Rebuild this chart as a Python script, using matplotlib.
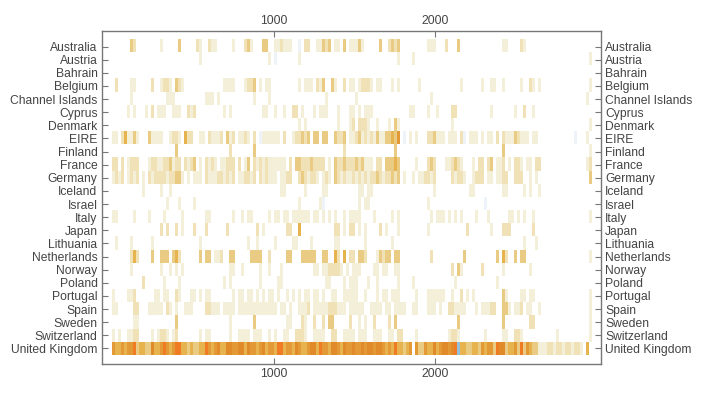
import numpy as np
import matplotlib
matplotlib.use("Agg")
import matplotlib.pyplot as plt
from matplotlib.colors import ListedColormap, BoundaryNorm

plt.rcParams["font.family"] = ["Liberation Sans", "DejaVu Sans"]

countries = ["Australia", "Austria", "Bahrain", "Belgium", "Channel Islands", "Cyprus",
             "Denmark", "EIRE", "Finland", "France", "Germany", "Iceland", "Israel",
             "Italy", "Japan", "Lithuania", "Netherlands", "Norway", "Poland",
             "Portugal", "Spain", "Sweden", "Switzerland", "United Kingdom"]

# stripes, 4 bands of 40 cells each; "cell:level" or "a-b:level"
band1 = [
    "6:3 7:2 16:1 22:3 28:2 29:1 32:2 33-34:1",
    "29:1",
    "",
    "1:2 6:1 7:1 13:2 16:1 17-18:2 19:1 21:3 22:2 23:1 37-39:1",
    "6:1 18:1 19-20:1 31:1 32:1 33:1 35:1",
    "5:1 7:1 11:1 13:2 15-16:1 17:1 20-21:1 22:1 25:2 26:1 27:2 37:1 39:1",
    "",
    "0-1:1 3:2 4:4 5-6:1 7:3 8:1 12:3 13-14:1 15-16:1 19:1 20:2 21:2 22:1 24:4 25-26:2 29-30:1 32:2 33-34:1 35:1 36:2 38:3 39:1",
    "21:3 39:2",
    "0-1:2 3:2 5:1 6:2 7-8:2 12:1 13-14:2 15:1 16:1 17-18:2 19:3 20:1 21-22:2 24:2 25:1 26:2 27:3 29:1 31:2 32:1 33:2 34:1 36-37:1 38:2 39:2",
    "0:1 1:2 2:1 3:2 5:1 6:2 7:1 8:2 10:1 12:2 13:1 14-16:2 17:2 18:1 19-20:2 21-22:3 23:1 25:1 27-29:1 31:2 32-34:1 35-36:2 37:1 38:2 39:1",
    "10:1 16:1 19:1",
    "18:1 22:1 27:1",
    "0-1:1 7:1 12:1 17:1 23:1 31:1 32:1",
    "16:2 18:2 21:2 23:1 27:2 31:2 38:2",
    "1:1 6:1 13:1 29:1",
    "6:2 7:4 8:2 13:3 16-17:3 18:3 20:3 21:4 22:2 29:3 31:3 32:3 34-35:1 36:2 39:3",
    "6:1 16:1 19:1 21:1 23:1 39:1",
    "10:2 17:1 22:1 37:1 39:1",
    "0:1 5-6:1 7:2 14:1 15:1 17:1 18:1 21:2 22:1 26:1 27:1 29:1 31:1 32:1",
    "0-1:1 7-8:2 12-14:1 15-16:1 18:2 19:1 21:1 24-26:1 31-32:2 33:1 34:1 35:1 37-38:1 39:1",
    "7-8:1 21:3 39:1",
    "0:1 2:1 5:1 6:1 7-8:2 13:1 15:1 16-17:2 18:1 20:1 21:2 29:1 31:1 32:1 39:1",
    "5445455734433644575457744343344754564466",
]
band2 = [
    "0:1 4:2 5:3 6:1 10-11:3 14:1 15:1 16:2 17-19:1 22:b 24-25:2 28-29:1 30:3 31:2 32:3 34-35:1 37:3 39:1",
    "12:1 14:b 22:1",
    "",
    "0:1 4:1 5-6:2 7:3 9:1 11-12:1 22:1 24:1 25-26:1 28:2 29:1 30:3 33:3 34:1 37:2 39:1",
    "7:1 12:1 31:1",
    "10-11:1 14:1 17:1 20-21:2 23:1 27:1 29-30:1 31:1 35:1 39:1",
    "22:1 24:1 35:1 39:1",
    "0:2 2:1 3:1 4:2 5:1 7:2 9:b 10-14:1 15:1 17:2 20:1 21:2 22:2 23:3 24:2 25:3 27-28:3 30-31:3 34:3 35-36:2 37:3 39:1",
    "7:3 37:2",
    "0:2 2:2 4:1 5:3 7:2 8:1 9:2 10:1 11:2 12-17:1 19:2 21:3 22:3 23-25:2 26:3 27-30:2 32:1 34:3 35:2 36:2 37:3 38:2 39:2",
    "0:2 2:1 3:1 4:2 5:2 6:1 7:2 9:2 10:1 11:2 12-14:1 16:1 17:1 18:2 19:2 22:2 23:3 24:2 25:1 26:2 27:2 28:1 30:1 31:2 32:1 34:3 35:2 36:1 37:2 38:1 39:1",
    "16-17:1 24:1 30-31:1",
    "22:1 29:1 30:b",
    "0:1 3:1 5:1 6:1 12:1 14:1 15:1 17:1 18:1 20-25:1 27:1 28:1 30:1 32:1 34:1 37:1 39:1",
    "8:2 10:1 18:2 19:2 22:4 34-35:2 37:1 39:2",
    "5:1 8:1 14:1 20:1 21:1 26:1 34-35:1",
    "0:3 6:3 7-9:3 12:2 18-19:3 23-27:3 30-31:3 34:4 35:2 37:4 39:2",
    "0:1 3:1 9:1 12:1 16:1 27:1 28:1 30-31:1 32-35:2 36:1 38:1",
    "9:1 15-16:1 31-32:1 37:1 39:1",
    "0:1 2:1 3:1 5:1 6:1 8:1 10:1 12:1 13:1 15:1 18:1 20:1 22:1 24:1 25:1 27:1 28:1 30:1 33:1 34:1 37-39:1",
    "0:1 2-4:1 5-9:1 10-14:1 16-17:1 19:1 22-24:1 25:2 27-29:1 30-31:1 32-34:2 35-37:1 39:1",
    "7:3 18-19:1 23:2 24:1 27:2 30:2 32-33:3 39:2",
    "2-4:1 5:1 7-9:1 12:1 14:1 17:1 18:1 21-23:2 24:1 27-30:1 33-34:2 37-39:1",
    "5566465545645547745546544566475546654655",
]
band3 = [
    "0:1 1:1 2:3 3:1 9:3 12:2 13:3 14:2 15:3 25-26:1 27:1 31:2 35:3",
    "15:1 20:1",
    "",
    "0:1 2:1 3-5:2 6:1 8-9:1 13:1 15:1 22:1 36:1",
    "1:1 26:1",
    "0:1 2:1 4:1 5-6:1 19-20:1 25:1 28:1 33-34:2",
    "0:2 2:2 3-4:2 5:1 8:1 12:1 14:3 15:1 33:1",
    "0:1 1:2 2:3 3:1 4:2 5:1 6:2 7:1 8:3 9:1 10:1 11:3 12:3 13:4 14:3 15:5 17:b 19:1 21:1 25:2 26:2 27:3 28-30:1 32-34:1 36:2 37:b 39:1",
    "14:3",
    "0:2 1:3 2:2 3:3 4:1 5:1 6:1 8:2 9:2 11:3 12:3 13:3 14:4 15:3 21:1 25:2 26:3 27:2 31:1 32:1 33:2 34:3 35:2 36:1",
    "0:2 1:1 2:2 3:1 4:2 5:1 6:2 7:2 8:3 9:2 10:1 11:2 12:2 13:3 14:2 15:3 17:1 20:1 22:1 23:1 24:2 25:2 26:1 27:2 33:2 34:1 35:2 36:2 37:1",
    "2-3:1 5:1 6:1 27:1 39:1",
    "2:1 4:1 5:1 25:1",
    "0:1 1:1 2:1 7:1 13:1 15:1 26:1 28-30:1 32:1 34:1 36:1",
    "0:2 2:1 4:1 9:2 11:1 15:1 25:1 38:2",
    "4:1 13:1",
    "0:2 2:3 3:3 4:2 8:1 9:3 10:2 11-12:3 14-15:3 26:2 37:3",
    "0:1 1:1 2:1 7:1 8:1 10:1 11:1 14-15:1 33:2 35:3 36:1",
    "0:1 1:1 5:1 8:1 15:1 20:1 34:1",
    "0:1 1:1 4:1 8:1 10:1 11:1 13-15:1 21:1 25-26:1 27-29:1 30:1 33:1 36:2 38:1",
    "0-2:1 3:1 6-9:1 11-12:1 14-16:1 17:1 20-21:1 25-27:1 29:1 32-33:2 34-36:1 37:1",
    "2:1 4:1 7:2 12:2 14:3 35:3",
    "0:1 2-4:1 7:1 8-9:1 12:1 13:1 15-16:2 21:1 32:1 33-34:2 35:1",
    "65565665665454744345.53354464566567B4433",
]
band4 = [
    "10-11:1 16:2 17:1",
    "39:1",
    "",
    "3:1 6-7:1 10:1 16:1 19:2 20:1 22:1 39:1",
    "38:1",
    "6:1 14:1 17:2 20:1",
    "39:1",
    "0:1 1:1 3:1 5:1 6:1 8:2 10:2 11:1 12-13:1 14:3 15:2 16-17:1 18:1 20:1 21:1 34:b 38:1",
    "10:3 39:1",
    "0:1 2:2 3:2 5:2 6:3 8-9:1 10:2 12:1 14:2 15:2 16:1 18:1 19:1 21-22:2 38:1 39:2",
    "0:1 1-3:2 5-6:1 8-9:1 10-11:2 14-15:2 16:2 19:1 21:1 39:3",
    "0:1 10-11:1 17:1 19:1 22:1",
    "4:b",
    "1:1 5:1 12-13:1 15:1 17:1 20:1 39:1",
    "6:1 10-11:2 12:2 20:2",
    "17:1 21:1",
    "8:3 10:4 11:2 14:3 16-17:3 39:1",
    "3:2 10:1 19:1",
    "8:1",
    "0:1 10:3 11:1 16-17:1 19-20:1 39:1",
    "1:1 3-5:1 6-7:2 10-11:3 12:1 14-15:1 16:2 18-19:1 22:1 39:1",
    "10:3 19-20:2 39:1",
    "4:1 10-11:1 14-15:2 16:1 28:1 39:1",
    "4435455376634453735433111221221221221.4",
]

level_colors = ["#ffffff", "#f4efd9", "#f0e2b6", "#eacb84", "#e6b34f",
                "#e39a36", "#e08a2a", "#ef7b22", "#edf3f8", "#94c0dc"]
code = {".": 0, "b": 8, "B": 9, **{str(k): k for k in range(1, 8)}}


def parse(spec, n=40):
    cells = np.zeros(n, dtype=int)
    if ":" not in spec:
        s = spec.ljust(n, ".")[:n]
        return np.array([code[c] for c in s])
    for tok in spec.split():
        pos, lv = tok.split(":")
        a, _, b = pos.partition("-")
        b = b or a
        cells[int(a):int(b) + 1] = code[lv]
    return cells


grid = np.array([np.concatenate([parse(s) for s in bands])
                 for bands in zip(band1, band2, band3, band4)])

n_cols = 2965
fig = plt.figure(figsize=(7.16, 3.98), dpi=100)
ax = fig.add_axes([0.142, 0.0854, 0.697, 0.837])
cmap = ListedColormap(level_colors)
norm = BoundaryNorm(np.arange(-0.5, len(level_colors)), len(level_colors))
ax.imshow(grid, cmap=cmap, norm=norm, aspect="auto", interpolation="nearest",
          extent=(0.5, n_cols + 0.5, len(countries) - 0.5, -0.5))
ax.set_xlim(-66, 3023)
ax.set_ylim(len(countries) - 0.5 + 0.69, -0.5 - 0.69)

ax.set_yticks(range(len(countries)))
ax.set_yticklabels(countries)
ax.set_xticks([1000, 2000])
ax.tick_params(axis="both", direction="in", length=4, width=0.8, color="#777777",
               labelcolor="#444444", labelsize=8.7,
               left=True, right=True, labelleft=True, labelright=True,
               top=True, bottom=True, labeltop=True, labelbottom=True, pad=3)
for sp in ax.spines.values():
    sp.set_color("#777777")
    sp.set_linewidth(1.0)

fig.savefig("out.png", dpi=100, facecolor="white")
